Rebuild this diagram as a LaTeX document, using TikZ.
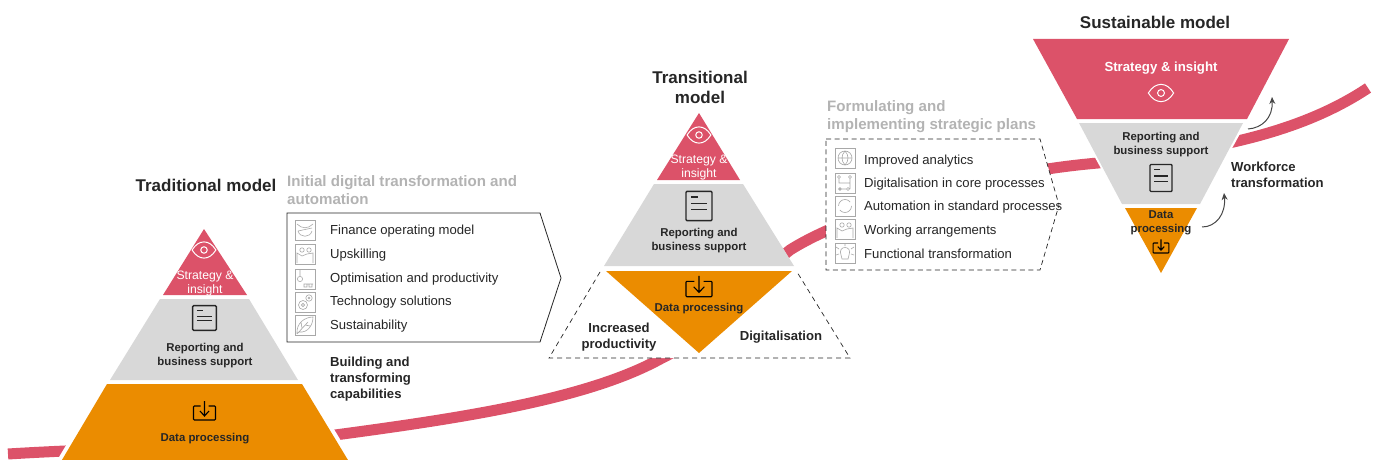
\documentclass[tikz,border=0pt]{standalone}
\usepackage{fontspec}
\setmainfont{Liberation Sans}
\usetikzlibrary{arrows.meta}
\definecolor{pinkc}{HTML}{DC5269}
\definecolor{grayc}{HTML}{D8D8D8}
\definecolor{orangec}{HTML}{EB8C00}
\definecolor{headc}{HTML}{B3B3B3}
\definecolor{inkc}{HTML}{262626}
\definecolor{iconc}{HTML}{A8A8A8}
\tikzset{
  txt/.style={inner sep=0pt,text=inkc,align=center},
  title/.style={txt,font=\bfseries\fontsize{17}{20}\selectfont},
  lab/.style={txt,font=\bfseries\fontsize{11.4}{14}\selectfont},
  wlab/.style={inner sep=0pt,text=white,align=center,font=\fontsize{12.2}{14}\selectfont},
  side/.style={txt,font=\bfseries\fontsize{13.1}{16}\selectfont},
  sidel/.style={side,anchor=west,align=left},
  head/.style={inner sep=0pt,anchor=west,align=left,text=headc,font=\bfseries\fontsize{15.1}{18}\selectfont},
  item/.style={inner sep=0pt,anchor=west,text=inkc,font=\fontsize{13.1}{15}\selectfont},
  ribbon/.style={draw=pinkc,line width=11pt,line cap=butt},
  curvearrow/.style={draw=inkc!85,line width=1pt,-{Stealth[length=7pt,width=6pt]}},
  ico/.style={draw=iconc,line width=.6pt},
  eye/.pic={
    \draw[line width=1pt,pic actions] (-11,0) .. controls (-5,-10) and (5,-10) .. (11,0) .. controls (5,10) and (-5,10) .. (-11,0) -- cycle;
    \draw[line width=1pt,pic actions] (0,0) circle (3);
  },
  docu/.pic={
    \draw[line width=1.4pt,rounded corners=1pt,draw=inkc] (-11,-13) rectangle (11,13);
    \draw[line width=1.2pt,draw=inkc] (-7,-8) -- (-1,-8) (-7,-2) -- (7,-2) (-7,3) -- (7,3);
  },
  dload/.pic={
    \draw[line width=1.1pt,rounded corners=.8pt,draw=black] (-4,-7) -- (-11,-7) -- (-11,7) -- (11,7) -- (11,-7) -- (4,-7);
    \draw[line width=1.1pt,draw=black] (0,-12) -- (0,3) (-4.5,-2) -- (0,3) -- (4.5,-2);
  },
  ibox/.pic={\draw[ico] (-10,-10) rectangle (10,10);},
  i1/.pic={\pic{ibox}; \draw[ico] (-8,-6) .. controls (-3,-1) and (3,-1) .. (8,-6) (-7,1) .. controls (-5,8) and (5,8) .. (7,1) (-7,1) -- (7,-2);},
  i2/.pic={\pic{ibox}; \draw[ico] (-3,-4) circle (2.2) (4,-4) circle (2.2) (-8,9) -- (-8,-1) -- (-3,2) -- (2,0) -- (8,-1) -- (8,9);},
  i3/.pic={\pic{ibox}; \draw[ico] (-5,-10) -- (-5,-3) (-5,0) circle (2.6) (-1,5) -- (8,5) (-1,5) rectangle (2,8) (4,5) rectangle (7,8);},
  i4/.pic={\pic{ibox}; \draw[ico] (-2,3) circle (4.5) (-2,3) circle (1.6) (4,-4) circle (3.2) (4,-4) circle (1);},
  i5/.pic={\pic{ibox}; \draw[ico] (-8,9) .. controls (-9,-2) and (0,-8) .. (8,-8) .. controls (8,0) and (3,8) .. (-6,7) (-8,9) -- (3,-3) (-3,3) -- (-4,-3) (0,0) -- (5,1);},
  i6/.pic={\pic{ibox}; \draw[ico] (0,0) circle (7) (-7,0) -- (7,0) (0,-7) .. controls (-4,-3) and (-4,3) .. (0,7) (0,-7) .. controls (4,-3) and (4,3) .. (0,7);},
  i7/.pic={\pic{ibox}; \draw[ico] (-6,-6) circle (1.5) (5,-6) circle (1.5) (-6,-4.5) -- (-6,0) -- (5,0) (5,-4.5) -- (5,6) (-7,6) -- (2,6) (-5,6) circle (1.5) (3,6) circle (1.5);},
  i8/.pic={\pic{ibox}; \draw[ico,dash pattern=on 16pt off 4.4pt] (0,0) circle (6.5);},
  i9/.pic={\pic{i2};},
  i10/.pic={\pic{ibox}; \draw[ico] (-4,2) .. controls (-8,-8) and (8,-8) .. (4,2) -- (3,6) -- (-3,6) -- cycle (-9,-6) -- (-6,-4) (9,-6) -- (6,-4) (0,-9.5) -- (0,-7) (-9,2) -- (-6,1) (9,2) -- (6,1);},
}
\begin{document}
\begin{tikzpicture}[x=1pt,y=-1pt]
\useasboundingbox (0,0) rectangle (1375,460);
% ribbon
\coordinate (r0) at (8,454);
\coordinate (r1) at (335,435);
\coordinate (r2) at (662,358);
\coordinate (r3) at (790,250);
\coordinate (r4) at (1098,163);
\coordinate (r5) at (1368,88);
\begin{scope}
\clip (0,0) rectangle (1375,460);
\draw[ribbon] (r0) .. controls (120,447) and (250,447) .. (r1)
  .. controls (470,417) and (590,398) .. (r2)
  .. controls (705,338) and (750,282) .. (r3)
  .. controls (840,218) and (970,174) .. (r4)
  .. controls (1190,152) and (1290,140) .. (r5);
% traditional pyramid
\draw[draw=white,line width=8pt,line join=miter] (107,384) -- (302,384) -- (354,470) -- (56,470) -- cycle;
\fill[orangec] (107,384) -- (302,384) -- (354,470) -- (56,470) -- cycle;
\end{scope}
\fill[pinkc] (204,229) -- (247,295) -- (163,295) -- cycle;
\fill[grayc] (160,299) -- (249,299) -- (298,380) -- (110,380) -- cycle;
% transitional
\fill[white] (696,113) -- (600,272) -- (549,358) -- (850,358) -- (797,272) -- (702,113) -- cycle;
\draw[dashed,draw=inkc,line width=.7pt,dash pattern=on 5pt off 4pt] (600,272) -- (549,358) -- (850,358) -- (797,272);
\fill[pinkc] (699,113) -- (740,180) -- (657,180) -- cycle;
\fill[grayc] (654,184) -- (743,184) -- (794,266) -- (604,266) -- cycle;
\fill[orangec] (606,271) -- (792,271) -- (699,353) -- cycle;
% sustainable
\fill[white] (1029,37) -- (1293,37) -- (1161,278) -- cycle;
\fill[pinkc] (1033,39) -- (1289,39) -- (1247,119) -- (1077,119) -- cycle;
\fill[grayc] (1079,123) -- (1243,123) -- (1200,204) -- (1122,204) -- cycle;
\fill[orangec] (1125,208) -- (1197,208) -- (1161,273) -- cycle;
% boxes
\draw[draw=inkc,line width=.8pt,fill=white] (287,213) -- (540,213) -- (561,278) -- (540,342) -- (287,342) -- cycle;
\draw[draw=inkc,line width=.7pt,fill=white,dash pattern=on 5pt off 3.5pt] (826,139) -- (1040,139) -- (1059,205) -- (1040,270) -- (826,270) -- cycle;
% icons traditional
\pic[draw=white,scale=1.08] at (204,250) {eye};
\pic[xscale=1.08,yscale=.95] at (204.5,318) {docu};
\pic[scale=1] at (204.5,413) {dload};
% icons transitional
\pic[draw=white,scale=1.08] at (699,135) {eye};
\pic[xscale=1.18,yscale=1.12] at (699,206) {docu};
\pic[xscale=1.18,yscale=1.1] at (699,289) {dload};
% icons sustainable
\pic[draw=white,scale=1.15] at (1161,93) {eye};
\pic[xscale=1,yscale=1.04] at (1161,178) {docu};
\pic[scale=.72] at (1161,248) {dload};
% small icons
\pic at (305,230) {i1};
\pic at (305,254) {i2};
\pic at (305,279) {i3};
\pic at (305,302) {i4};
\pic at (305,325) {i5};
\pic at (845,158) {i6};
\pic at (845,183) {i7};
\pic at (845,206) {i8};
\pic at (845,229) {i9};
\pic at (845,253) {i10};
% titles
\node[title] (t1) at (206,185) {Traditional model};
\node[title] (t2) at (700,87) {Transitional\\model};
\node[title] (t3) at (1155,22) {Sustainable model};
% headings
\node[head] (h1) at (287,190) {Initial digital transformation and\\automation};
\node[head] (h2) at (827,117) {Formulating and\\implementing strategic plans};
% lists
\node[item] (a1) at (330,231) {Finance operating model};
\node[item] (a2) at (330,255) {Upskilling};
\node[item] (a3) at (330,279) {Optimisation and productivity};
\node[item] (a4) at (330,302) {Technology solutions};
\node[item] (a5) at (330,326) {Sustainability};
\node[item] (b1) at (864,161) {Improved analytics};
\node[item] (b2) at (864,184) {Digitalisation in core processes};
\node[item] (b3) at (864,207) {Automation in standard processes};
\node[item] (b4) at (864,231) {Working arrangements};
\node[item] (b5) at (864,254) {Functional transformation};
% traditional labels
\node[wlab] (s1) at (205,284) {Strategy \&\\insight};
\node[lab] (r1t) at (205,355.5) {Reporting and\\business support};
\node[lab] (d1) at (205,439) {Data processing};
\node[sidel] (c1) at (330,379) {Building and\\transforming\\capabilities};
% transitional labels
\node[wlab] (s2) at (699,168) {Strategy \&\\insight};
\node[lab] (r2t) at (699,241) {Reporting and\\business support};
\node[lab] (d2) at (699,309) {Data processing};
\node[side] (p2) at (619,337) {Increased\\productivity};
\node[side] (g2) at (781,337.5) {Digitalisation};
% sustainable labels
\node[inner sep=0pt,text=white,font=\bfseries\fontsize{13.2}{15}\selectfont] (s3) at (1161,68.5) {Strategy \& insight};
\node[lab] (r3t) at (1161,145) {Reporting and\\business support};
\node[lab] (d3) at (1161,222.5) {Data\\processing};
\node[sidel] (w3) at (1231,175) {Workforce\\transformation};
% arrows
\coordinate (ua) at (1248,129);
\coordinate (ub) at (1272,97);
\coordinate (la) at (1202,227);
\coordinate (lb) at (1224,193);
\draw[curvearrow] (ua) .. controls (1262,128) and (1273,118) .. (ub);
\draw[curvearrow] (la) .. controls (1216,227) and (1226,214) .. (lb);
\end{tikzpicture}
\end{document}
